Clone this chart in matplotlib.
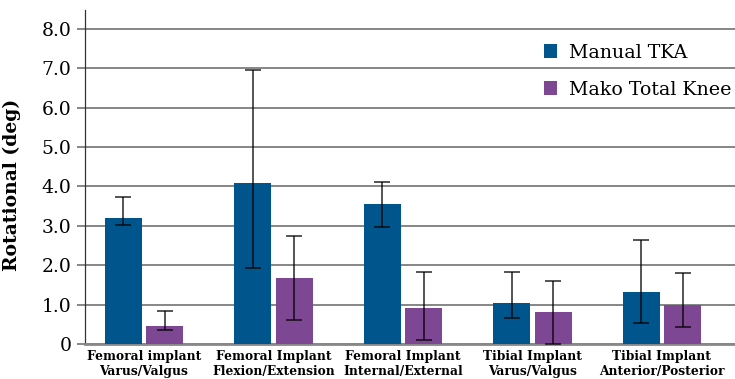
import numpy as np
import matplotlib.pyplot as plt

# ── Data ─────────────────────────────────────────────────────────────────────
CATEGORIES = [
    "Femoral implant\nVarus/Valgus",
    "Femoral Implant\nFlexion/Extension",
    "Femoral Implant\nInternal/External",
    "Tibial Implant\nVarus/Valgus",
    "Tibial Implant\nAnterior/Posterior",
]

MANUAL_MEAN = [3.20, 4.08, 3.55, 1.04, 1.33]
MANUAL_LOW  = [3.02, 1.92, 2.98, 0.66, 0.54]
MANUAL_HIGH = [3.73, 6.95, 4.11, 1.83, 2.63]

MAKO_MEAN = [0.47, 1.69, 0.92, 0.82, 0.99]
MAKO_LOW  = [0.36, 0.60, 0.10, 0.00, 0.44]
MAKO_HIGH = [0.85, 2.74, 1.83, 1.61, 1.81]

Y_TICKS = [0, 1, 2, 3, 4, 5, 6, 7, 8]
Y_TICK_LABELS = ["0", "1.0", "2.0", "3.0", "4.0", "5.0", "6.0", "7.0", "8.0"]

MANUAL_COLOR = "#00558C"
MAKO_COLOR = "#7E4794"

plt.rcParams["font.family"] = ["DejaVu Serif"]

fig = plt.figure(figsize=(7.35, 3.79), dpi=100)
ax = fig.add_axes([0.1156, 0.092, 0.8844, 0.882])

x = np.arange(len(CATEGORIES))
width = 0.286
off = 0.159

def _yerr(mean, low, high):
    mean = np.array(mean)
    return [mean - np.array(low), np.array(high) - mean]

err_kw = dict(ecolor=(0, 0, 0, 0.72), elinewidth=1.3, capsize=5.8, capthick=1.3)

ax.bar(x - off, MANUAL_MEAN, width, color=MANUAL_COLOR, label="Manual TKA",
       yerr=_yerr(MANUAL_MEAN, MANUAL_LOW, MANUAL_HIGH), error_kw=err_kw, zorder=3)
ax.bar(x + off, MAKO_MEAN, width, color=MAKO_COLOR, label="Mako Total Knee",
       yerr=_yerr(MAKO_MEAN, MAKO_LOW, MAKO_HIGH), error_kw=err_kw, zorder=3)

ax.set_xlim(-0.456, 4.564)
ax.set_ylim(0, 8.48)
ax.set_yticks(Y_TICKS)
ax.set_yticklabels(Y_TICK_LABELS, fontsize=13.5)
ax.set_xticks(x)
ax.set_xticklabels(CATEGORIES, fontsize=8.8, fontweight="bold", linespacing=1.2)
ax.tick_params(axis="x", length=0, pad=4)
ax.tick_params(axis="y", length=5.8, width=1.1, color="#666666", pad=4)
ax.set_ylabel("Rotational (deg)", fontsize=13.5, fontweight="bold")
ax.yaxis.set_label_coords(-0.098, 0.475)

ax.grid(axis="y", color="#666666", linewidth=1.1, zorder=0)
ax.set_axisbelow(True)
for side in ("top", "right"):
    ax.spines[side].set_visible(False)
ax.spines["left"].set_color("#333333")
ax.spines["left"].set_linewidth(0.9)
ax.spines["bottom"].set_color("#888888")
ax.spines["bottom"].set_linewidth(2.0)

leg = ax.legend(loc="upper left", bbox_to_anchor=(0.68, 0.95), frameon=False,
                fontsize=13.7, handlelength=0.7, handleheight=0.7,
                handletextpad=0.6, labelspacing=1.0)

fig.savefig("out.png", dpi=100)
